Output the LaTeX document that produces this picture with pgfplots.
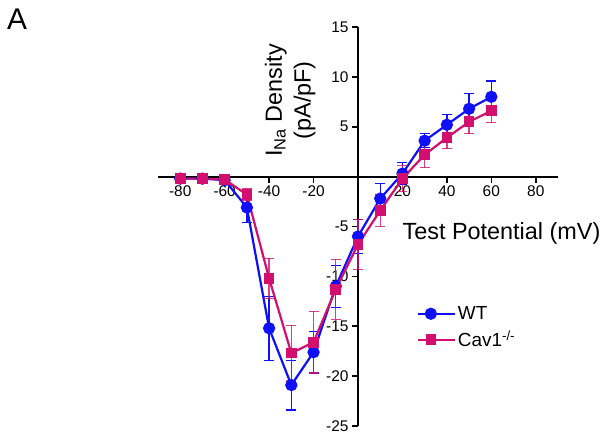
\documentclass[border=0pt]{standalone}
\usepackage{fontspec}
\setmainfont{Liberation Sans}
\usepackage{pgfplots}
\pgfplotsset{compat=1.18}
\definecolor{wtblue}{RGB}{15,15,250}
\definecolor{cavpink}{RGB}{210,15,110}
\pgfplotstableread{
x y e
-80 -0.2 0
-70 -0.2 0
-60 -0.35 0.1
-50 -3.1 1.5
-40 -15.2 3.2
-30 -20.9 2.5
-20 -17.6 2.1
-10 -11.0 2.1
0 -6.0 1.7
10 -2.2 1.5
20 0.3 1.1
30 3.6 0.7
40 5.2 1.0
50 6.8 1.5
60 8.0 1.6
}\wtdata
\pgfplotstableread{
x y e
-80 -0.2 0
-70 -0.2 0
-60 -0.3 0.1
-50 -1.8 0.6
-40 -10.2 2.0
-30 -17.7 2.8
-20 -16.6 3.1
-10 -11.3 3.0
0 -6.8 2.5
10 -3.4 1.6
20 -0.2 1.3
30 2.2 1.3
40 3.9 1.1
50 5.5 1.2
60 6.6 1.2
}\cavdata
\begin{document}
\begin{tikzpicture}
\useasboundingbox (0,0) rectangle (608bp,440bp);
\node[anchor=base west, inner sep=0pt, font=\fontsize{30}{36}\selectfont] at (7bp,410bp) {A};
\begin{axis}[
  at={(158bp,14bp)}, anchor=south west,
  scale only axis, width=400bp, height=399bp,
  xmin=-90, xmax=90, ymin=-25, ymax=15,
  axis lines=middle,
  axis line style={-, line width=2bp, black},
  xtick={-80,-60,-40,-20,20,40,60,80},
  ytick={-25,-20,-15,-10,-5,5,10,15},
  minor tick num=0,
  tick style={black, line width=1.6bp},
  major tick length=6bp,
  tick align=outside,
  /pgf/number format/assume math mode=true,
  tick label style={font=\fontsize{15.5}{18}\selectfont},
  xlabel={Test Potential (mV)},
  xlabel style={at={(axis cs:18.5,-5.7)}, anchor=west, font=\fontsize{23.5}{28}\selectfont},
  ylabel={I\textsubscript{Na} Density\\(pA/pF)},
  ylabel style={at={(axis cs:-30.5,7.65)}, anchor=center, rotate=90, align=center, font=\fontsize{23.5}{29}\selectfont},
  legend style={at={(axis cs:25,-12.6)}, anchor=north west, draw=none, fill=none,
    font=\fontsize{19}{23}\selectfont, row sep=6bp,
    cells={anchor=west}},
  legend image code/.code={\draw[mark repeat=2, mark phase=2] plot coordinates {(0bp,0bp) (13bp,0bp) (26bp,0bp)}; \path (0bp,0bp) -- (37bp,0bp);},
  clip=false,
]
\addplot[wtblue, line width=2.2bp, mark=*, mark size=5bp,
  error bars/.cd, y dir=both, y explicit,
  error bar style={line width=1.3bp, wtblue},
  error mark options={line width=1.3bp, mark size=5bp, wtblue, rotate=90}]
  table[x=x, y=y, y error=e] {\wtdata};
\addlegendentry{WT}
\addplot[cavpink, line width=2.2bp, mark=square*, mark size=4.2bp,
  error bars/.cd, y dir=both, y explicit,
  error bar style={line width=1.3bp, cavpink, opacity=0.8},
  error mark options={line width=1.3bp, mark size=5bp, cavpink, rotate=90, opacity=0.8}]
  table[x=x, y=y, y error=e] {\cavdata};
\addlegendentry{Cav1\textsuperscript{-/-}}
\end{axis}
\end{tikzpicture}
\end{document}
